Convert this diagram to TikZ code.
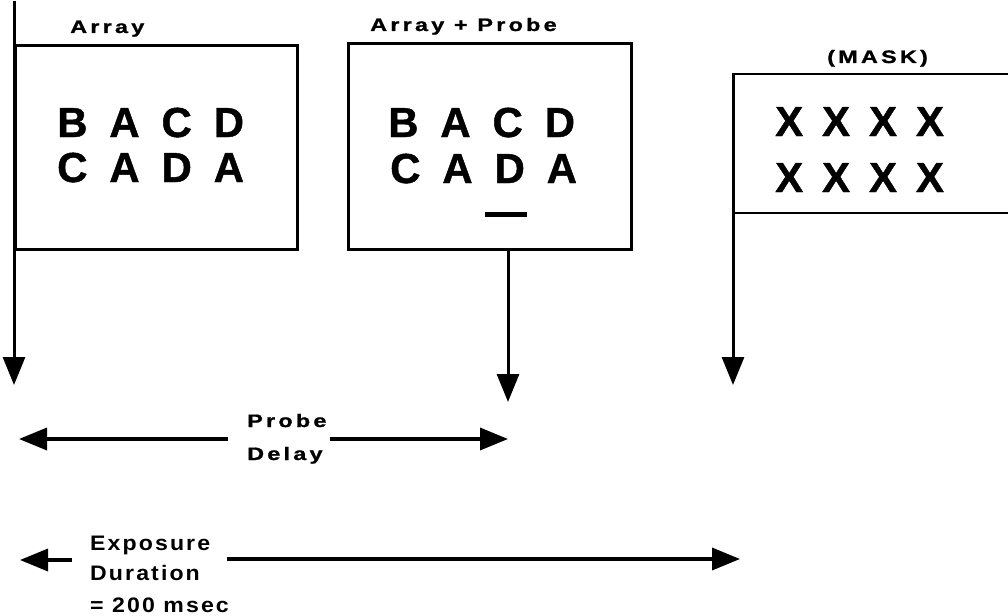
\documentclass[tikz,border=0pt]{standalone}
\usepackage{fontspec}
\setmainfont{Liberation Sans}
\usetikzlibrary{arrows.meta}
\tikzset{
  frame/.style={line width=2.6pt},
  conn/.style={line width=3pt,-{Triangle[length=28pt,width=22pt]}},
  lab/.style={inner sep=0pt,anchor=base west,font=\fontsize{18}{18}\selectfont\bfseries\addfontfeatures{FakeStretch=1.3,FakeBold=1.2,LetterSpace=18}},
  elab/.style={inner sep=0pt,anchor=base west,font=\fontsize{21}{21}\selectfont\bfseries\addfontfeatures{FakeStretch=1.1,LetterSpace=10}},
  big/.style={inner sep=0pt,anchor=base west,font=\fontsize{42}{42}\selectfont\bfseries\addfontfeatures{FakeBold=1,LetterSpace=52}},
  bigx/.style={inner sep=0pt,anchor=base west,font=\fontsize{42}{42}\selectfont\bfseries\addfontfeatures{FakeBold=1,LetterSpace=45}},
}
\begin{document}
\begin{tikzpicture}[x=1pt,y=-1pt]
\useasboundingbox (0,0) rectangle (1008,615);
% coordinates
\coordinate (ltop) at (14,1);
\coordinate (ltip) at (14,385);
\coordinate (mtip) at (508,402);
\coordinate (rtip) at (733,385);
% box 1
\node[frame,draw,minimum width=282pt,minimum height=204pt,anchor=north west,inner sep=0pt] (box1) at (14,44) {};
\node[lab] (l1) at (70,33) {Array};
\node[big] (b1a) at (57,137) {BACD};
\node[big] (b1b) at (57,182) {CADA};
% box 2
\node[frame,draw,minimum width=283pt,minimum height=206pt,anchor=north west,inner sep=0pt] (box2) at (347,42) {};
\node[lab] (l2) at (370,31) {Array + Probe};
\node[big] (b2a) at (388,137) {BACD};
\node[big] (b2b) at (390,183) {CADA};
\node[fill=black,minimum width=42pt,minimum height=5pt,inner sep=0pt] (probe) at (506,214) {};
% mask box
\coordinate (mtl) at (733,74);
\coordinate (mbl) at (733,213);
\draw[frame] (1010,74) -- (mtl) -- (mbl) -- (1010,213);
\node[lab] (l3) at (827,63) {(MASK)};
\node[bigx] (x1) at (775,136) {XXXX};
\node[bigx] (x2) at (775,192) {XXXX};
% vertical arrows
\draw[conn] (ltop) -- (ltip);
\draw[conn] (box2.south -| mtip) -- (mtip);
\draw[conn] (mtl) -- (rtip);
% probe delay
\coordinate (pdl) at (19,439);
\coordinate (pdr) at (508,439);
\node[lab] (pr) at (247,427) {Probe};
\node[lab] (de) at (247,460) {Delay};
\draw[line width=3.5pt,-{Triangle[length=28pt,width=22pt]}] (228,439) -- (pdl);
\draw[line width=3.5pt,-{Triangle[length=28pt,width=22pt]}] (330,439) -- (pdr);
% exposure
\coordinate (exl) at (20,560);
\coordinate (exr) at (740,559);
\node[elab] (ex) at (90,550) {Exposure};
\node[elab] (du) at (90,580) {Duration};
\node[elab] (ms) at (90,612) {= 200 msec};
\draw[line width=3.5pt,-{Triangle[length=28pt,width=22pt]}] (72,560) -- (exl);
\draw[line width=3.5pt,-{Triangle[length=28pt,width=22pt]}] (227,559) -- (exr);
\end{tikzpicture}
\end{document}
